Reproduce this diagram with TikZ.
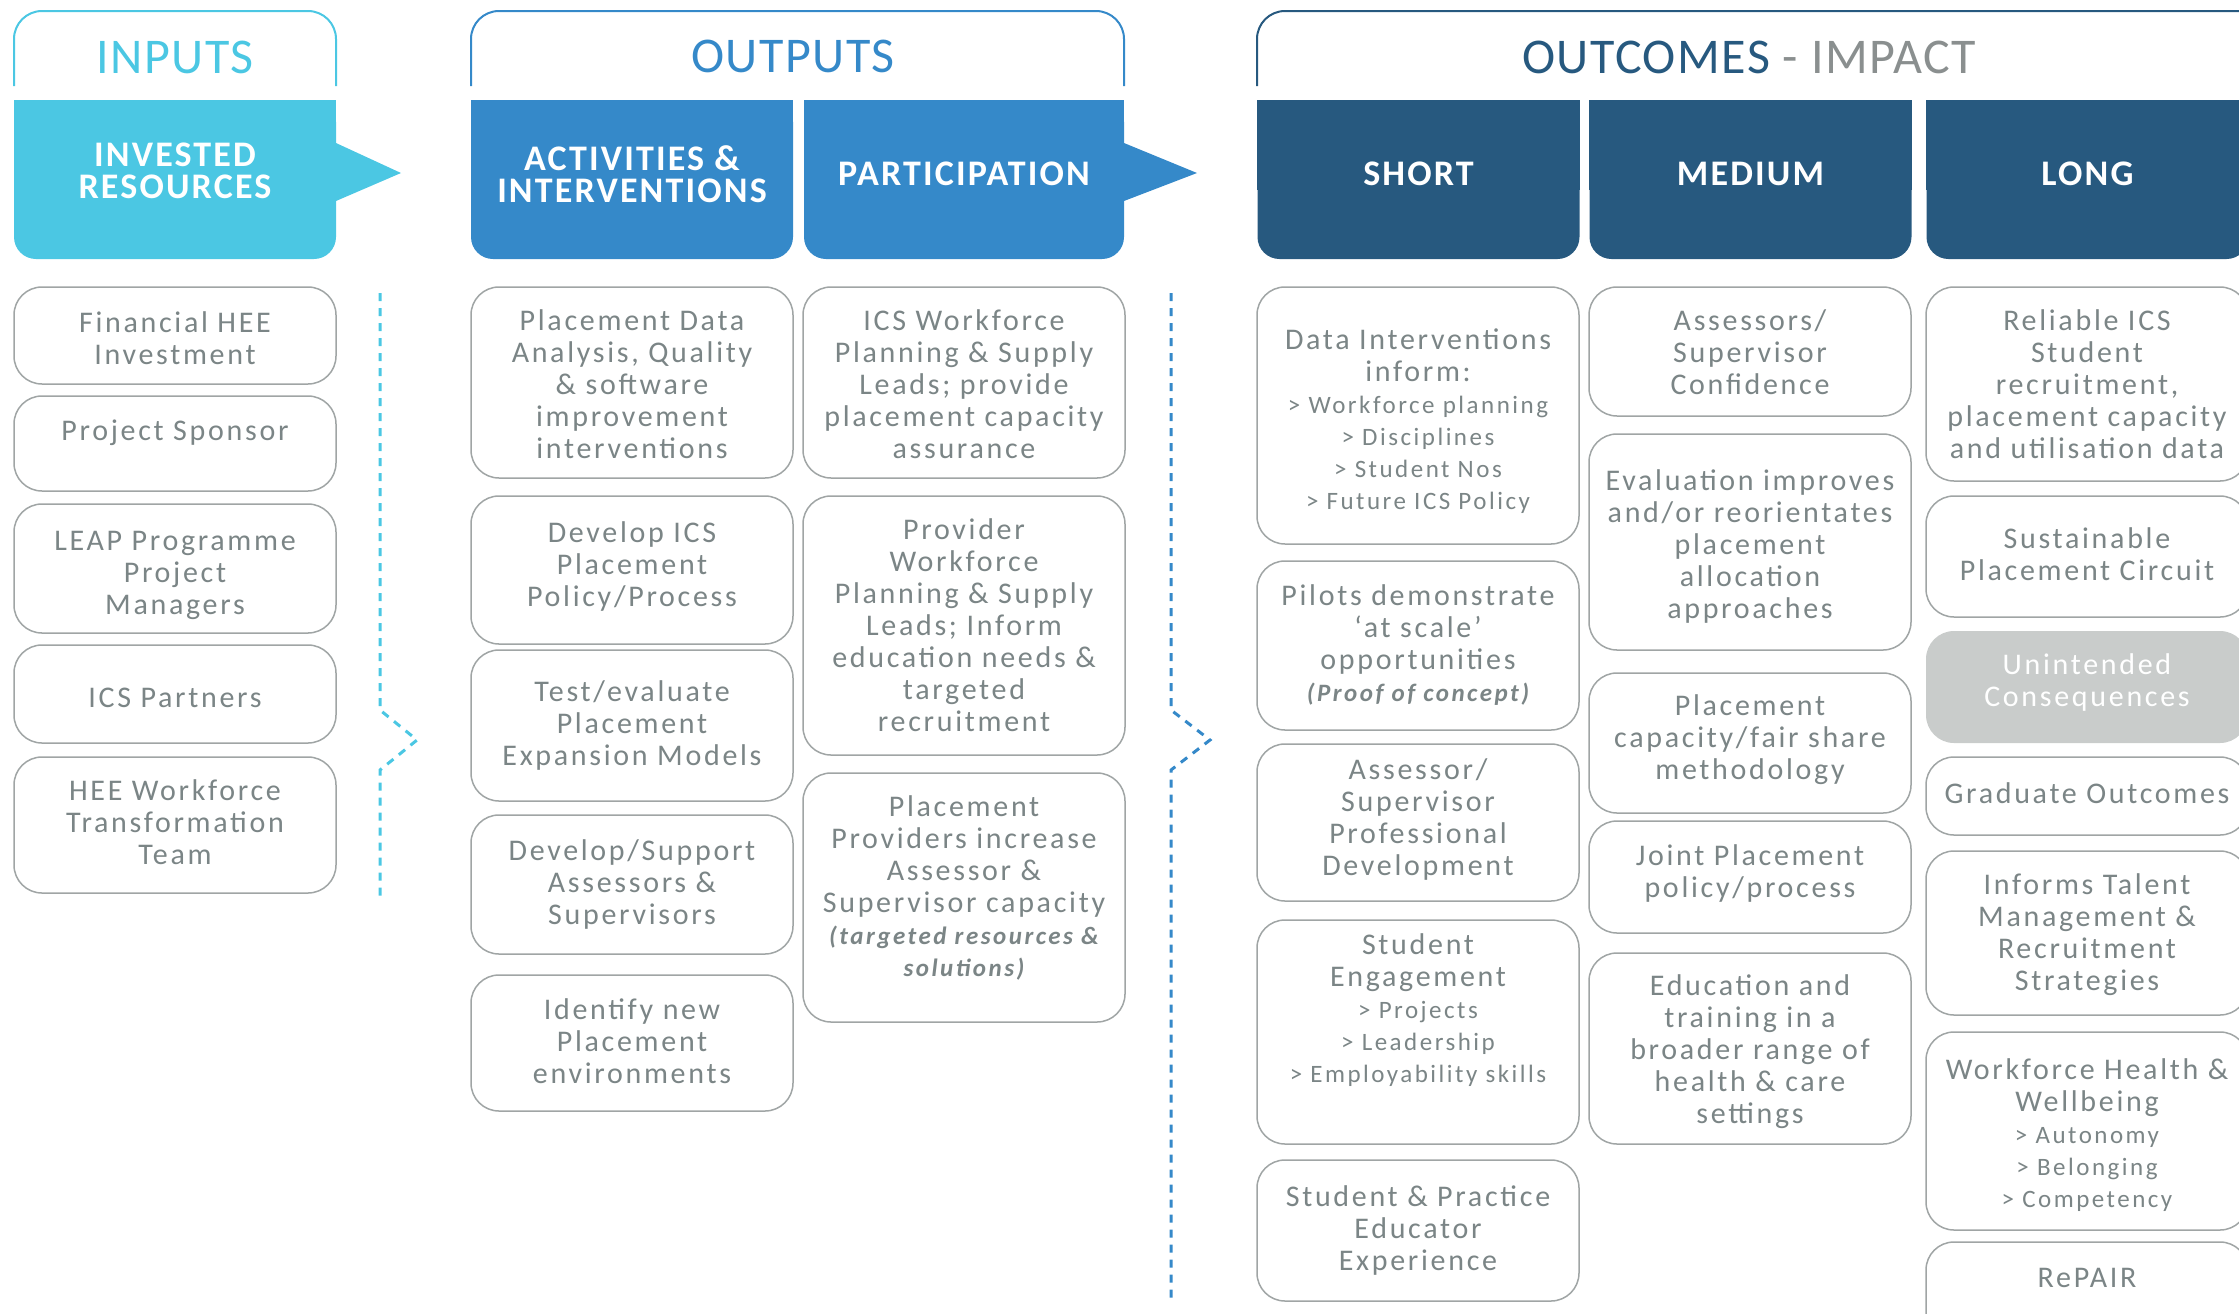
\documentclass[tikz,border=0pt]{standalone}
\usepackage{fontspec}
\setmainfont{Carlito}
\newfontfamily\bodyf[LetterSpace=9]{Carlito}
\newfontfamily\subf[LetterSpace=10]{Carlito}
\newfontfamily\titf[LetterSpace=3]{Carlito}
\newfontfamily\hdrf[LetterSpace=6]{Carlito}
\definecolor{cyanc}{HTML}{4BC7E3}
\definecolor{bluec}{HTML}{3589C9}
\definecolor{dkbc}{HTML}{27597F}
\definecolor{txtg}{HTML}{7B8586}
\definecolor{impg}{HTML}{8A8F8F}
\definecolor{boxg}{HTML}{A0A5A5}
\definecolor{unfill}{HTML}{C9CCCB}
\newcommand\subl[1]{{\subf\fontsize{12.5pt}{16pt}\selectfont #1}}
\newcommand\bitl[1]{{\subf\fontsize{12.5pt}{16pt}\selectfont\bfseries\itshape #1}}
\tikzset{
  bx/.style={draw=boxg, line width=0.75pt, rounded corners=14pt, fill=white, inner sep=0pt},
  tx/.style={align=center, text=txtg, font=\bodyf\fontsize{15pt}{16pt}\selectfont, inner sep=0pt},
  hbx/.style={rounded corners=11pt, inner sep=0pt, minimum width=161pt, minimum height=79.5pt},
  hlab/.style={align=center, text=white, inner sep=0pt, font=\hdrf\bfseries\fontsize{18pt}{16pt}\selectfont},
  ttl/.style={inner sep=0pt, font=\titf\fontsize{25pt}{28pt}\selectfont},
  hline/.style={line width=1pt, rounded corners=14pt},
  dashln/.style={line width=1.5pt, dash pattern=on 4pt off 3.5pt}
}
\newcommand\bx[6]{%
  \node[bx, minimum width=161pt, minimum height={(#4-#3)*0.5pt}] (#1) at ({#2+161},{(#3+#4)/2}) {};
  \node[tx] (#1t) at ({#2+161},#5) {#6};}
\begin{document}
\begin{tikzpicture}[x=0.5pt,y=-0.5pt]
\useasboundingbox (0,0) rectangle (2239,1313);
\clip (0,0) rectangle (2239,1313);
% ---- header outlines and titles
\draw[hline, cyanc] (14,86) -- (14,11) -- (336,11) -- (336,86);
\draw[hline, bluec] (471,86) -- (471,11) -- (1124,11) -- (1124,86);
\draw[hline, dkbc] (1257,86) -- (1257,11) -- (2270,11) -- (2270,86);
\node[ttl, text=cyanc] (tin) at (175,57) {INPUTS};
\node[ttl, text=bluec] (tout) at (793,56) {OUTPUTS};
\node[ttl] (toc) at (1749,57) {\textcolor{dkbc}{OUTCOMES} \textcolor{impg}{- IMPACT}};
% ---- filled headers
\fill[cyanc] (14,100) rectangle (336,190);
\fill[cyanc] (336,143) -- (401,173) -- (336,201) -- cycle;
\node[hbx, fill=cyanc] (hin) at (175,179.5) {};
\node[hlab] (hint) at (175,171) {INVESTED\\RESOURCES};
\fill[bluec] (471,100) rectangle (793,190);
\node[hbx, fill=bluec, minimum width=161pt] (hact) at (632,179.5) {};
\node[hlab] (hactt) at (632,174) {ACTIVITIES \&\\INTERVENTIONS};
\fill[bluec] (804,100) rectangle (1124,190);
\fill[bluec] (1124,143) -- (1197,173) -- (1124,201) -- cycle;
\node[hbx, fill=bluec, minimum width=160pt] (hpar) at (964,179.5) {};
\node[hlab] (hpart) at (964,174) {PARTICIPATION};
\fill[dkbc] (1257,100) rectangle (1580,190);
\node[hbx, fill=dkbc] (hsh) at (1418.5,179.5) {};
\node[hlab] (hsht) at (1418.5,174) {SHORT};
\fill[dkbc] (1589,100) rectangle (1912,190);
\node[hbx, fill=dkbc] (hme) at (1750.5,179.5) {};
\node[hlab] (hmet) at (1750.5,174) {MEDIUM};
\fill[dkbc] (1926,100) rectangle (2249,190);
\node[hbx, fill=dkbc] (hlo) at (2087.5,179.5) {};
\node[hlab] (hlot) at (2087.5,174) {LONG};
% ---- dashed separators
\coordinate (d1a) at (380,293);
\coordinate (d1b) at (380,710);
\coordinate (d1c) at (417,740);
\coordinate (d1d) at (380,770);
\coordinate (d1e) at (380,900);
\draw[dashln, cyanc] (d1a) -- (d1b) -- (d1c) -- (d1d) -- (d1e);
\coordinate (d2a) at (1171,293);
\coordinate (d2b) at (1171,710);
\coordinate (d2c) at (1210,740);
\coordinate (d2d) at (1171,770);
\coordinate (d2e) at (1171,1300);
\draw[dashln, bluec] (d2a) -- (d2b) -- (d2c) -- (d2d) -- (d2e);
% ---- inputs
\bx{i1}{14}{287}{384}{338}{Financial HEE\\Investment}
\bx{i2}{14}{396}{491}{433}{Project Sponsor}
\bx{i3}{14}{504}{633}{575}{LEAP Programme\\Project\\Managers}
\bx{i4}{14}{645}{743}{698}{ICS Partners}
\bx{i5}{14}{757}{893}{822}{HEE Workforce\\Transformation\\Team}
% ---- activities
\bx{a1}{471}{287}{478}{384}{Placement Data\\Analysis, Quality\\\& software\\improvement\\interventions}
\bx{a2}{471}{496}{644}{566}{Develop ICS\\Placement\\Policy/Process}
\bx{a3}{471}{650}{801}{725}{Test/evaluate\\Placement\\Expansion Models}
\bx{a4}{471}{815}{954}{884}{Develop/Support\\Assessors \&\\Supervisors}
\bx{a5}{471}{975}{1111}{1041}{Identify new\\Placement\\environments}
% ---- participation
\bx{p1}{803}{287}{478}{384}{ICS Workforce\\Planning \& Supply\\Leads; provide\\placement capacity\\assurance}
\bx{p2}{803}{496}{755}{625}{Provider\\Workforce\\Planning \& Supply\\Leads; Inform\\education needs \&\\targeted\\recruitment}
\bx{p3}{803}{773}{1022}{888}{Placement\\Providers increase\\Assessor \&\\Supervisor capacity\\\bitl{(targeted resources \&}\\\bitl{solutions)}}
% ---- short
\bx{s1}{1257}{287}{544}{421}{Data Interventions\\inform:\\\subl{> Workforce planning}\\\subl{> Disciplines}\\\subl{> Student Nos}\\\subl{> Future ICS Policy}}
\bx{s2}{1257}{561}{730}{645}{Pilots demonstrate\\‘at scale’\\opportunities\\\bitl{(Proof of concept)}}
\bx{s3}{1257}{744}{901}{819}{Assessor/\\Supervisor\\Professional\\Development}
\bx{s4}{1257}{920}{1144}{1010}{Student\\Engagement\\\subl{> Projects}\\\subl{> Leadership}\\\subl{> Employability skills}}
\bx{s5}{1257}{1160}{1301}{1230}{Student \& Practice\\Educator\\Experience}
% ---- medium
\bx{m1}{1589}{287}{416}{352}{Assessors/\\Supervisor\\Confidence}
\bx{m2}{1589}{434}{650}{546}{Evaluation improves\\and/or reorientates\\placement\\allocation\\approaches}
\bx{m3}{1589}{673}{813}{740}{Placement\\capacity/fair share\\methodology}
\bx{m4}{1589}{821}{933}{873}{Joint Placement\\policy/process}
\bx{m5}{1589}{953}{1144}{1052}{Education and\\training in a\\broader range of\\health \& care\\settings}
% ---- long
\bx{l1}{1926}{287}{481}{384}{Reliable ICS\\Student\\recruitment,\\placement capacity\\and utilisation data}
\bx{l2}{1926}{496}{617}{554}{Sustainable\\Placement Circuit}
\node[bx, draw=none, fill=unfill, minimum width=161pt, minimum height=56pt] (l3) at (2087,687) {};
\node[tx, text=white] (l3t) at (2087,682) {Unintended\\Consequences};
\bx{l4}{1926}{757}{835}{793}{Graduate Outcomes}
\bx{l5}{1926}{851}{1015}{935}{Informs Talent\\Management \&\\Recruitment\\Strategies}
\bx{l6}{1926}{1032}{1230}{1135}{Workforce Health \&\\Wellbeing\\\subl{> Autonomy}\\\subl{> Belonging}\\\subl{> Competency}}
\bx{l7}{1926}{1242}{1340}{1278}{RePAIR}
\end{tikzpicture}
\end{document}
